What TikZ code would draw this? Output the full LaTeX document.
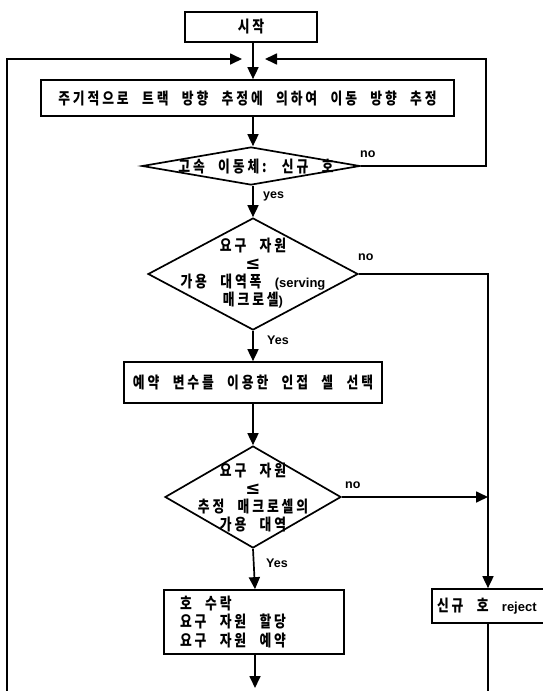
\documentclass[tikz,border=0pt]{standalone}
\usepackage{fontspec}
\setmainfont{Noto Sans CJK KR}
\newfontfamily\kr{Noto Sans CJK KR}[LetterSpace=18,WordSpace=2.3,FakeStretch=0.8]
\newfontfamily\lat{Liberation Sans}
\newfontfamily\sym{DejaVu Sans}
\newcommand\latt[1]{{\lat\bfseries\fontsize{13}{14}\selectfont #1}}
\newcommand\myle{{\sym\bfseries\fontsize{18}{15}\selectfont ≤}}
\usetikzlibrary{arrows.meta,shapes.geometric}
\begin{document}
\begin{tikzpicture}[x=1pt,y=-1pt,
  ln/.style={line width=1.7pt},
  arr/.style={ln,-{Triangle[length=12pt,width=11pt]}},
  box/.style={draw,ln,rectangle,inner sep=0pt,font=\kr\bfseries\fontsize{16}{18.5}\selectfont},
  dia/.style={draw,ln,diamond,inner sep=0pt},
  dtext/.style={font=\kr\bfseries\fontsize{16}{18}\selectfont,align=center,inner sep=0pt},
  lbl/.style={font=\lat\bfseries\fontsize{12.5}{13}\selectfont,inner sep=0pt,anchor=west}
]
\useasboundingbox (0,0) rectangle (542,691);
\coordinate (ax) at (253,0);
\coordinate (rc) at (486,0);
\coordinate (rx) at (488,0);

\node[box,minimum width=132pt,minimum height=30pt] (start) at (251,27) {시작};
\node[box,minimum width=413pt,minimum height=36pt] (main) at (247.5,98) {주기적으로 트랙 방향 추정에 의하여 이동 방향 추정};
\node[dia,minimum width=218pt,minimum height=38pt] (d1) at (251,166) {};
\node[dtext] (t1) at (256,167) {고속 이동체: 신규 호};
\node[dia,minimum width=210pt,minimum height=112pt] (d2) at (253,274) {};
\node[dtext] (t2) at (253,273) {요구 자원\\\myle\\가용 대역폭 \latt{(serving}\\매크로셀\latt{)}};
\node[box,minimum width=258pt,minimum height=41pt] (res) at (253,382.5) {예약 변수를 이용한 인접 셀 선택};
\node[dia,minimum width=176pt,minimum height=102pt] (d3) at (253,497) {};
\node[dtext] (t3) at (253,498) {요구 자원\\\myle\\추정 매크로셀의\\가용 대역};
\node[box,minimum width=180pt,minimum height=64pt,align=left] (acc) at (254,622)
  {\makebox[148pt][l]{호 수락}\\\makebox[148pt][l]{요구 자원 할당}\\\makebox[148pt][l]{요구 자원 예약}};
\node[box,minimum width=128pt,minimum height=34pt] (rej) at (496,606) {\makebox[118pt][l]{신규 호 {\lat\bfseries\fontsize{13}{14}\selectfont reject}}};

\node[lbl] (no1) at (360,154) {no};
\node[lbl] (yes1) at (263,196) {yes};
\node[lbl] (no2) at (358,257) {no};
\node[lbl] (yes2) at (267,340) {Yes};
\node[lbl] (no3) at (345,485) {no};
\node[lbl] (yes3) at (266,563) {Yes};

\coordinate (lb) at (7,691);
\coordinate (ltp) at (242,59);
\coordinate (rt) at (265,59);
\coordinate (rb) at (488,691);
\coordinate (ae) at (255,688);

\draw[arr] (start.south -| ax) -- (main.north -| ax);
\draw[arr] (lb) |- (ltp);
\draw[arr] (d1.east) -| (rc |- rt) -- (rt);
\draw[arr] (main.south -| ax) -- (d1.north -| ax);
\draw[arr] (d1.south -| ax) -- (d2.north);
\draw[arr] (d2.east) -| (rej.north -| rx);
\draw[arr] (d2.south) -- (res.north -| ax);
\draw[arr] (res.south -| ax) -- (d3.north);
\draw[arr] (d3.east) -- (d3.east -| rx);
\draw[arr] (d3.south) -- (acc.north -| ae);
\draw[arr] (acc.south -| ae) -- (ae);
\draw[ln] (rej.south -| rx) -- (rb);
\end{tikzpicture}
\end{document}
